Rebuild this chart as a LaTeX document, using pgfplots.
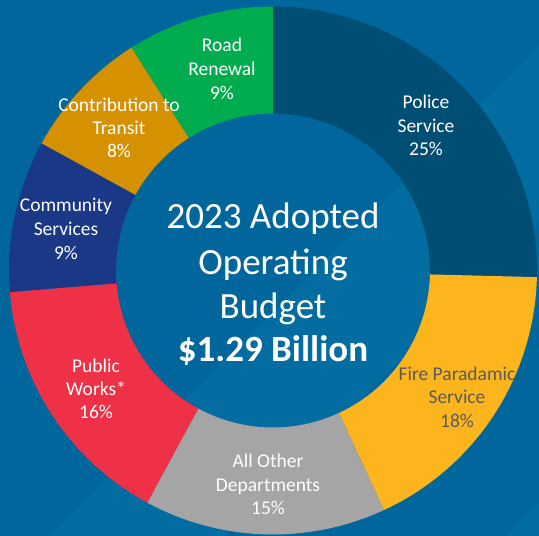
\documentclass[border=0pt]{standalone}
\usepackage{pgfplots}
\pgfplotsset{compat=1.18}
\usepackage{fontspec}
\setmainfont{Carlito}
\definecolor{bg}{HTML}{00669C}
\definecolor{band}{HTML}{036DA2}
\definecolor{police}{HTML}{004E73}
\definecolor{fire}{HTML}{FDB51E}
\definecolor{other}{HTML}{A5A5A5}
\definecolor{works}{HTML}{EF3147}
\definecolor{comm}{HTML}{1A3885}
\definecolor{transit}{HTML}{D59100}
\definecolor{road}{HTML}{00AC4E}
\definecolor{graytext}{HTML}{5A5A5A}
% one ring slice between two cumulative percentages
\newcommand{\slice}[3]{%
  \addplot[fill=#3, draw=none, domain=0:81, samples=82, variable=\t]
   ({273+ringr(\t)*cos(90-3.6*(#1+(#2-#1)*ringf(\t)))},
    {270.5-ringr(\t)*sin(90-3.6*(#1+(#2-#1)*ringf(\t)))}) -- cycle;
}
\newcommand{\lbl}[4][white]{%
  \node[anchor=base, inner sep=0pt, text=#1, font=\fontsize{19.5bp}{23.5bp}\selectfont] at (axis cs:#2,#3) {#4};}
\newcommand{\ttl}[3]{%
  \node[anchor=base, inner sep=0pt, text=white, font=\fontsize{37bp}{44bp}\selectfont] at (axis cs:#1,#2) {#3};}
\begin{document}
\begin{tikzpicture}
\begin{axis}[scale only axis, width=539bp, height=536bp,
  xmin=0, xmax=539, ymin=0, ymax=536, y dir=reverse,
  hide axis, clip=true,
  declare function={ringr(\s)=(\s<40.5)*264+(\s>40.5)*157;
                    ringf(\s)=(\s<40.5)*\s/40+(\s>40.5)*(81-\s)/40;}]
% background
\addplot[fill=bg, draw=none] coordinates {(0,0) (539,0) (539,536) (0,536)} -- cycle;
\addplot[fill=band, draw=none] coordinates {(539,46) (539,221) (224,536) (49,536)} -- cycle;
\addplot[fill=band, draw=none] coordinates {(539,503) (539,536) (506,536)} -- cycle;
% ring: start and end as cumulative percentages
\slice{0}{25.4}{police}
\slice{25.4}{43.1}{fire}
\slice{43.1}{57.9}{other}
\slice{57.9}{73.7}{works}
\slice{73.7}{83}{comm}
\slice{83}{91}{transit}
\slice{91}{100}{road}
% labels
\lbl{426}{108}{Police}
\lbl{426}{132}{Service}
\lbl{426}{155}{25\%}
\lbl[graytext]{457}{380}{Fire Paradamic}
\lbl[graytext]{457}{403}{Service}
\lbl[graytext]{457}{427}{18\%}
\lbl{268}{467}{All Other}
\lbl{268}{491}{Departments}
\lbl{268}{514}{15\%}
\lbl{96}{372}{Public}
\lbl{96}{395}{Works*}
\lbl{96}{418}{16\%}
\lbl{66}{211}{Community}
\lbl{66}{235}{Services}
\lbl{66}{259}{9\%}
\lbl{119}{111}{Contribution to}
\lbl{119}{134}{Transit}
\lbl{119}{157}{8\%}
\lbl{222}{52}{Road}
\lbl{222}{76}{Renewal}
\lbl{222}{99}{9\%}
\ttl{273}{228}{2023 Adopted}
\ttl{273}{274}{Operating}
\ttl{273}{318}{Budget}
\ttl{273}{361}{\bfseries \$1.29 Billion}
\end{axis}
\end{tikzpicture}
\end{document}
